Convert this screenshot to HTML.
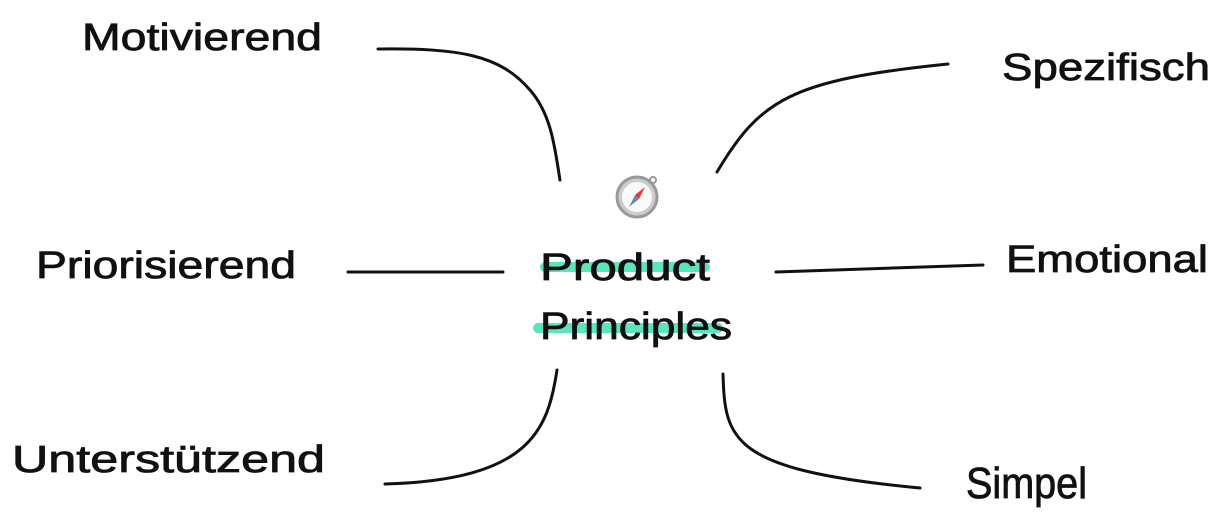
<!DOCTYPE html>
<html><head><style>
body{margin:0;width:1222px;height:522px;background:#fff;overflow:hidden}
svg{display:block}
text{font-family:"Comic Sans MS","Liberation Sans",sans-serif;font-size:38px;fill:#111;stroke:#111;stroke-width:0.8}
</style></head><body>
<svg width="1222" height="522" viewBox="0 0 1222 522">
<g fill="none" stroke="#111" stroke-width="3" stroke-linecap="round">
<path d="M378 49 C460 48 500 55 530 90 C552 115 555 150 560 180"/>
<path d="M717 172 C760 100 790 80 948 64"/>
<path d="M348 272 L503 272"/>
<path d="M776 272 C850 270 920 267 983 265"/>
<path d="M557 370 C548 430 530 480 385 484"/>
<path d="M723 374 C725 440 730 470 920 488"/>
</g>
<rect x="540" y="262" width="170" height="10" rx="5" fill="#3ee0b0" opacity="0.85"/>
<rect x="533" y="323" width="190" height="10" rx="5" fill="#3ee0b0" opacity="0.85"/>
<circle cx="637" cy="197" r="20" fill="#ccc" stroke="#999" stroke-width="3"/>
<circle cx="637" cy="197" r="15" fill="#fafafa"/>
<circle cx="653" cy="180" r="3" fill="none" stroke="#999" stroke-width="2"/>
<path d="M645 187 L639 199 L635 195 Z" fill="#e33"/>
<path d="M629 207 L635 195 L639 199 Z" fill="#68a"/>
<text x="540" y="280" textLength="170" lengthAdjust="spacingAndGlyphs">Product</text>
<text x="540" y="339" textLength="192" lengthAdjust="spacingAndGlyphs">Principles</text>
<text x="82" y="50" textLength="240" lengthAdjust="spacingAndGlyphs">Motivierend</text>
<text x="1002" y="80" textLength="208" lengthAdjust="spacingAndGlyphs">Spezifisch</text>
<text x="36" y="278" textLength="260" lengthAdjust="spacingAndGlyphs">Priorisierend</text>
<text x="1006" y="272" textLength="202" lengthAdjust="spacingAndGlyphs">Emotional</text>
<text x="12" y="472" textLength="313" lengthAdjust="spacingAndGlyphs">Unterstützend</text>
<text x="966" y="498" style="font-size:44px" textLength="121" lengthAdjust="spacingAndGlyphs">Simpel</text>
</svg>
</body></html>
